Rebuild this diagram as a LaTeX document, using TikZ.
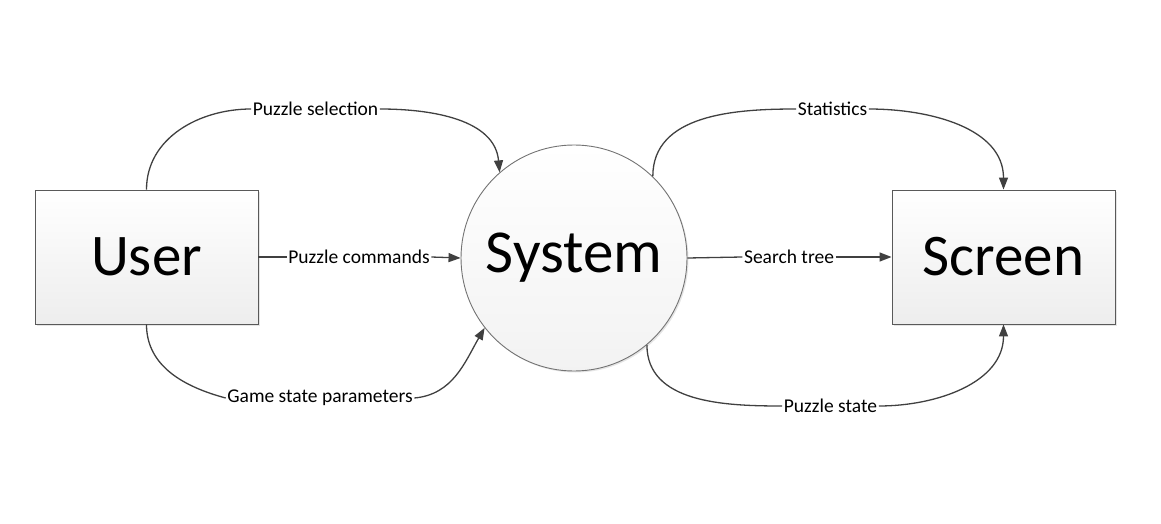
\documentclass[tikz,border=0pt]{standalone}
\usepackage{fontspec}
\setmainfont{Carlito}
\usetikzlibrary{arrows.meta,shadows}
\begin{document}
\begin{tikzpicture}[x=1pt,y=1pt,
		box/.style={draw=black!65,line width=0.9pt,top color=white,bottom color=black!7,drop shadow={shadow xshift=1.5pt,shadow yshift=-1.5pt,fill=black!20,opacity=0.5},font=\fontsize{59}{62}\selectfont},
		lbl/.style={fill=white,inner sep=1.5pt,font=\fontsize{19.5}{22}\selectfont},
		flow/.style={draw=black!75,line width=1.3pt},
		arr/.style={flow,-{Triangle[length=12pt,width=9pt]}}]
		\useasboundingbox (0,0) rectangle (1161,523);
		\node[box,minimum width=223,minimum height=134] (user) at (146.5,266) {User};
		\node[box,circle,draw=black!55,bottom color=black!5,minimum size=226,font=\fontsize{61}{64}\selectfont] (sys) at (574,265) {System};
		\node[box,minimum width=223,minimum height=134] (screen) at (1003.5,266) {Screen};
		\node[lbl] (lsel) at (315.5,414) {Puzzle selection};
		\node[lbl] (lcmd) at (359,266) {Puzzle commands};
		\node[lbl] (lgame) at (320,125) {Game state parameters};
		\node[lbl] (lstat) at (832.5,414) {Statistics};
		\node[lbl] (ltree) at (789,266) {Search tree};
		\node[lbl] (lstate) at (830.5,117) {Puzzle state};
		% user -> system
		\draw[flow] (user.north) to[out=90,in=180] (lsel.west);
		\draw[arr] (lsel.east) to[out=0,in=95] (sys.131);
		\draw[flow] (user.east) -- (lcmd.west);
		\draw[arr] (lcmd.east) -- (sys.west);
		\draw[flow] (user.south) to[out=-90,in=165] (lgame.west);
		\draw[arr] (lgame.east) to[out=5,in=240] (sys.218);
		% system -> screen
		\draw[flow] (sys.46) to[out=90,in=180] (lstat.west);
		\draw[arr] (lstat.east) to[out=0,in=90] (screen.north);
		\draw[flow] (sys.east) -- (ltree.west);
		\draw[arr] (ltree.east) -- (screen.west);
		\draw[flow] (sys.-50) to[out=-90,in=180] (lstate.west);
		\draw[arr] (lstate.east) to[out=0,in=-90] (screen.south);
\end{tikzpicture}
\end{document}
